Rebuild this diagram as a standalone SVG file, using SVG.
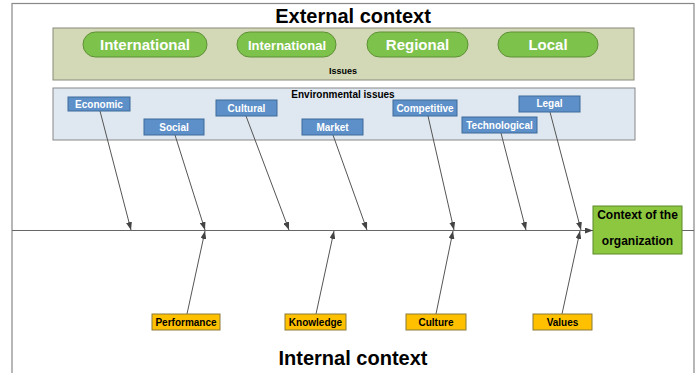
<svg xmlns="http://www.w3.org/2000/svg" width="698" height="373" viewBox="0 0 698 373">
<style>
.title{font-family:"Liberation Sans",Arial,sans-serif;font-weight:bold;font-size:20px;fill:#000;text-anchor:middle}
.pill{fill:#7dc24b;stroke:#5e8f36;stroke-width:1}
.pilltxt{font-family:"Liberation Sans",Arial,sans-serif;font-weight:bold;font-size:15px;fill:#fff;text-anchor:middle}
.blue{fill:#5d8fc8;stroke:#3f6a99;stroke-width:1}
.bluetxt{font-family:"Liberation Sans",Arial,sans-serif;font-weight:bold;font-size:10px;fill:#fff;text-anchor:middle}
.orange{fill:#ffc000;stroke:#8a7a3a;stroke-width:1}
.otxt{font-family:"Liberation Sans",Arial,sans-serif;font-weight:bold;font-size:10px;fill:#000;text-anchor:middle}
.small{font-family:"Liberation Sans",Arial,sans-serif;font-weight:bold;font-size:10px;fill:#000;text-anchor:middle}
.ctx{font-family:"Liberation Sans",Arial,sans-serif;font-weight:bold;font-size:12px;fill:#000;text-anchor:middle}
.conn{stroke:#555;stroke-width:1;fill:none;marker-end:url(#ah)}
</style>
<defs>
<marker id="ah" markerWidth="8" markerHeight="6" refX="8" refY="3" orient="auto" markerUnits="userSpaceOnUse">
<path d="M0,0 L8,3 L0,6 Z" fill="#444"/>
</marker>
</defs>
<rect x="0" y="0" width="698" height="373" fill="#fff"/>
<rect x="12" y="3.5" width="682" height="380" fill="none" stroke="#888" stroke-width="1.2"/>
<text class="title" x="353" y="23">External context</text>
<g id="issues-panel">
<rect x="53" y="28" width="581" height="52" fill="#d3d9b6" stroke="#8a8a7a" stroke-width="1"/>
<text class="small" x="343" y="74" style="font-size:9px">Issues</text>
</g>
<g id="pill-international-1"><rect class="pill" x="83" y="32" width="124" height="25" rx="12.5"/><text class="pilltxt" x="145" y="50">International</text></g>
<g id="pill-international-2"><rect class="pill" x="237" y="32" width="99" height="25" rx="12.5"/><text class="pilltxt" x="287" y="49.5" style="font-size:13px">International</text></g>
<g id="pill-regional"><rect class="pill" x="367" y="32" width="101" height="25" rx="12.5"/><text class="pilltxt" x="417.5" y="50">Regional</text></g>
<g id="pill-local"><rect class="pill" x="498" y="32" width="100" height="25" rx="12.5"/><text class="pilltxt" x="548" y="50">Local</text></g>
<g id="env-panel">
<rect x="53" y="88" width="582" height="52" fill="#dfe8f0" stroke="#888" stroke-width="1"/>
<text class="small" x="343" y="98">Environmental issues</text>
</g>
<g id="connectors">
<line x1="12" y1="230.5" x2="694" y2="230.5" stroke="#666" stroke-width="1"/>
<line class="conn" x1="583" y1="230.5" x2="593" y2="230.5"/>
<line class="conn" x1="100" y1="111" x2="131" y2="230"/>
<line class="conn" x1="175" y1="135" x2="205" y2="230"/>
<line class="conn" x1="246" y1="116" x2="289" y2="230"/>
<line class="conn" x1="333" y1="135" x2="367" y2="230"/>
<line class="conn" x1="428" y1="116" x2="454" y2="230"/>
<line class="conn" x1="501" y1="133" x2="526" y2="230"/>
<line class="conn" x1="550" y1="112" x2="581" y2="230"/>
<line class="conn" x1="187" y1="314" x2="205" y2="231"/>
<line class="conn" x1="316" y1="314" x2="334" y2="231"/>
<line class="conn" x1="436" y1="314" x2="453" y2="231"/>
<line class="conn" x1="562" y1="314" x2="580" y2="231"/>
</g>
<g id="economic"><rect class="blue" x="68" y="97" width="62" height="14"/><text class="bluetxt" x="99" y="107.5">Economic</text></g>
<g id="social"><rect class="blue" x="144" y="119" width="60" height="16"/><text class="bluetxt" x="174" y="130.5">Social</text></g>
<g id="cultural"><rect class="blue" x="216" y="100" width="61" height="16"/><text class="bluetxt" x="246.5" y="111.5">Cultural</text></g>
<g id="market"><rect class="blue" x="302" y="119" width="61" height="16"/><text class="bluetxt" x="332.5" y="130.5">Market</text></g>
<g id="competitive"><rect class="blue" x="393" y="100" width="64" height="16"/><text class="bluetxt" x="425" y="111.5">Competitive</text></g>
<g id="technological"><rect class="blue" x="462" y="117" width="75" height="16"/><text class="bluetxt" x="499.5" y="128.5">Technological</text></g>
<g id="legal"><rect class="blue" x="519" y="96" width="61" height="16"/><text class="bluetxt" x="549.5" y="107">Legal</text></g>
<g id="context"><rect x="593" y="206" width="89" height="48" fill="#8dc63f" stroke="#5a8a2a" stroke-width="1"/><text class="ctx" x="637.5" y="219">Context of the</text><text class="ctx" x="637.5" y="245">organization</text></g>
<g id="performance"><rect class="orange" x="152" y="314" width="68" height="16"/><text class="otxt" x="186" y="325.5">Performance</text></g>
<g id="knowledge"><rect class="orange" x="285" y="314" width="61" height="16"/><text class="otxt" x="315.5" y="325.5">Knowledge</text></g>
<g id="culture"><rect class="orange" x="406" y="314" width="60" height="16"/><text class="otxt" x="436" y="325.5">Culture</text></g>
<g id="values"><rect class="orange" x="533" y="314" width="59" height="16"/><text class="otxt" x="562.5" y="325.5">Values</text></g>
<text class="title" x="353" y="365">Internal context</text>
</svg>
